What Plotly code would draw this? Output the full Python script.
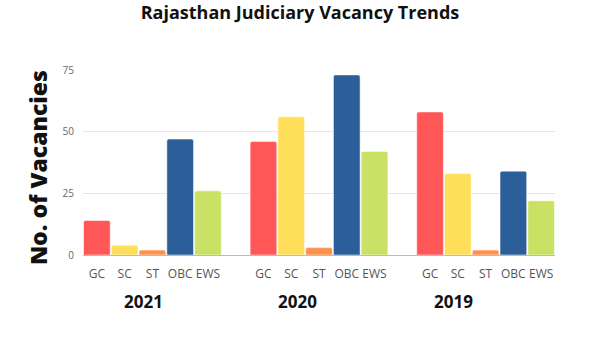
import plotly.graph_objects as go

years = ["2021", "2020", "2019"]
categories = ["GC", "SC", "ST", "OBC", "EWS"]
colors = ["#FF5757", "#FFDE59", "#FF914D", "#2C5F99", "#C9E265"]
# values per category for years (2021, 2020, 2019)
gc = [14, 46, 58]
sc = [4, 56, 33]
st = [2, 3, 2]
obc = [47, 73, 34]
ews = [26, 42, 22]
series = [gc, sc, st, obc, ews]

slot = len(categories) + 1
fig = go.Figure()
tickvals, ticktext = [], []
for ci, (cat, vals, col) in enumerate(zip(categories, series, colors)):
    xs = [g * slot + ci for g in range(len(years))]
    fig.add_trace(go.Bar(x=xs, y=vals, name=cat, marker=dict(color=col, line=dict(color="white", width=0.5)),
                         width=0.96, showlegend=False))
    tickvals += xs
    ticktext += [cat] * len(years)

fig.update_layout(
    width=600, height=337,
    margin=dict(l=83, r=45, t=70, b=82),
    paper_bgcolor="white", plot_bgcolor="white",
    barmode="overlay", barcornerradius=2,
    font=dict(family="Open Sans", color="#444"),
    title=dict(text="<b>Rajasthan Judiciary Vacancy Trends</b>", x=0.5, xanchor="center",
               y=0.962, yanchor="middle", font=dict(size=18, color="#111", family="Open Sans")),
    xaxis=dict(range=[-0.5, len(years) * slot - 1.5], tickvals=tickvals, ticktext=ticktext,
               showgrid=False, showline=True, linecolor="#bbbbbb", linewidth=1, ticks="",
               ticklabelstandoff=8,
               tickfont=dict(size=12, color="#555"), zeroline=False),
    yaxis=dict(range=[0, 75], tickvals=[0, 25, 50, 75], showgrid=True, gridcolor="#e6e6e6",
               zeroline=False, ticks="", tickfont=dict(size=10, color="#666"),
               ticklabelstandoff=8),
)

fig.add_annotation(text="No. of Vacancies", xref="paper", yref="paper", x=-0.0953, y=0.47,
                   xanchor="center", yanchor="middle", textangle=-90, showarrow=False,
                   font=dict(size=23, color="#111", family="Open Sans", weight=800))

year_x = [0.129, 0.455, 0.784]
for yr, xp in zip(years, year_x):
    fig.add_annotation(text="<b>%s</b>" % yr, xref="paper", yref="paper", x=xp, y=-0.254,
                       xanchor="center", yanchor="middle",
                       showarrow=False, font=dict(size=17, color="#111", family="Open Sans"))

fig.write_html("out.html")
